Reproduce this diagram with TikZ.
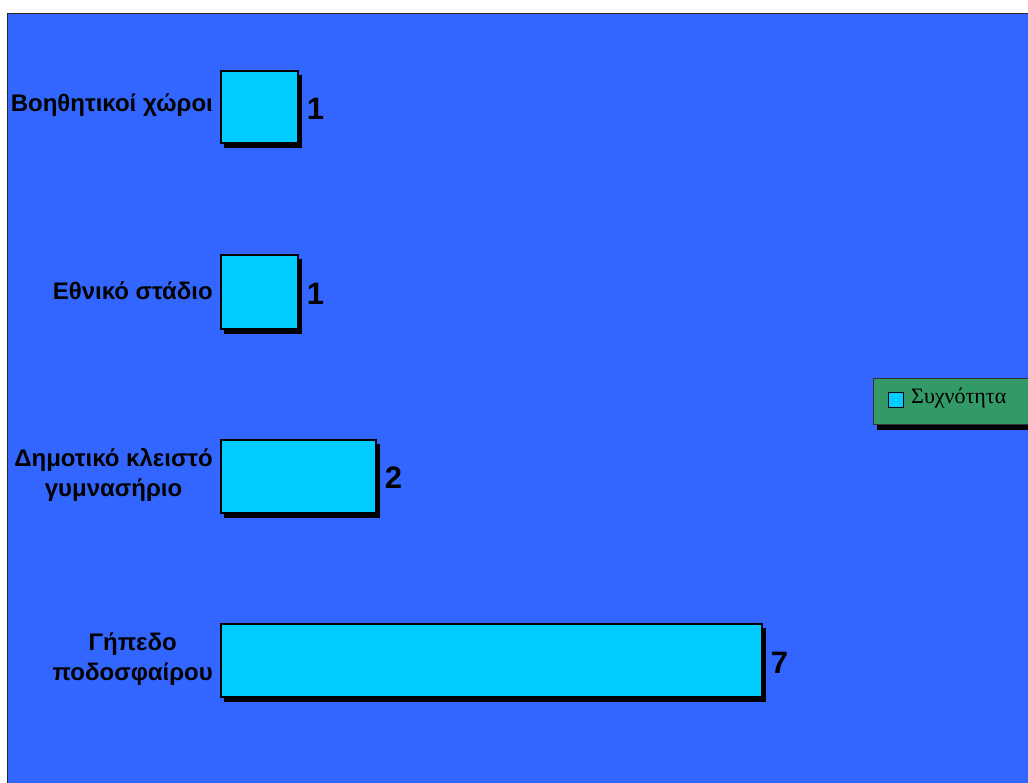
\documentclass[tikz,border=0pt]{standalone}
\usepackage{fontspec}
\setmainfont{Liberation Sans}
\newfontfamily\legfont{Liberation Serif}
\definecolor{plotblue}{HTML}{3366FF}
\definecolor{barcyan}{HTML}{00CCFF}
\definecolor{leggreen}{HTML}{339966}
\tikzset{
  barbox/.style={fill=barcyan, draw=black, line width=1.6pt},
  shadowbox/.style={fill=black},
  catlabel/.style={anchor=east, align=center, font=\fontsize{24}{30}\selectfont\bfseries, inner sep=0pt},
  vallabel/.style={anchor=west, font=\fontsize{31}{34}\selectfont\bfseries, inner sep=0pt},
}
\begin{document}
\begin{tikzpicture}[x=1pt,y=-1pt]
\useasboundingbox (0,0) rectangle (1028,783);
\begin{scope}
\clip (0,0) rectangle (1028,783);
\fill[white] (0,0) rectangle (1028,783);
\draw[fill=plotblue, draw=black!85, line width=1.8pt] (7.5,13.5) rectangle (1040,800);
% bars: shadows then boxes
\fill[shadowbox] (224,75) rectangle (302,148);
\node[barbox, minimum width=77pt, minimum height=72pt, anchor=north west, inner sep=0pt] (b1) at (220,70) {};
\fill[shadowbox] (224,259) rectangle (302,334);
\node[barbox, minimum width=77pt, minimum height=74pt, anchor=north west, inner sep=0pt] (b2) at (220,254) {};
\fill[shadowbox] (224,444) rectangle (380,518);
\node[barbox, minimum width=155pt, minimum height=73pt, anchor=north west, inner sep=0pt] (b3) at (220,439) {};
\fill[shadowbox] (224,628) rectangle (766,702);
\node[barbox, minimum width=541pt, minimum height=73pt, anchor=north west, inner sep=0pt] (b4) at (220,623) {};
% category labels
\node[catlabel] (l1) at (213,105) {Βοηθητικοί χώροι};
\node[catlabel] (l2) at (213,291) {Εθνικό στάδιο};
\node[catlabel] (l3) at (213,475) {Δημοτικό κλειστό\\γυμνασήριο};
\node[catlabel] (l4) at (213,659) {Γήπεδο\\ποδοσφαίρου};
% values
\node[vallabel] (v1) at ([xshift=8pt,yshift=-2pt]b1.east) {1};
\node[vallabel] (v2) at ([xshift=8pt,yshift=-2pt]b2.east) {1};
\node[vallabel] (v3) at ([xshift=8pt,yshift=-1pt]b3.east) {2};
\node[vallabel] (v4) at ([xshift=8pt,yshift=-3pt]b4.east) {7};
% legend
\fill[black] (877,384) rectangle (1040,430);
\draw[fill=leggreen, draw=black!80, line width=1pt] (873,379) rectangle (1040,424);
\node[draw=black, line width=1pt, fill=barcyan, minimum size=15pt, inner sep=0pt] (ls) at (896,400) {};
\node[anchor=west, inner sep=0pt, font=\fontsize{22}{24}\selectfont\legfont] (lt) at (911,398) {Συχνότητα};
\end{scope}
\end{tikzpicture}
\end{document}
